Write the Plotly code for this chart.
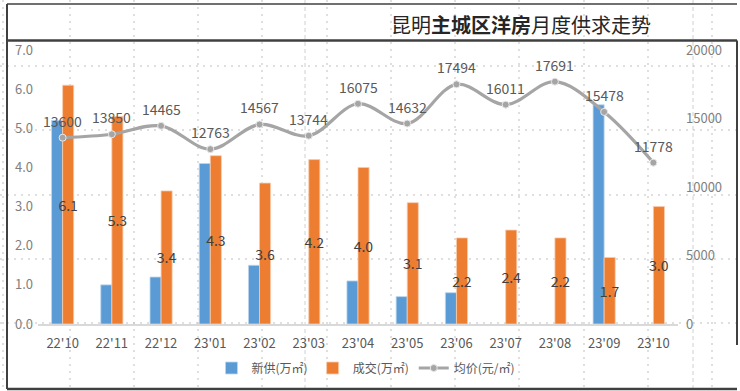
import plotly.graph_objects as go

# ---------------- data ----------------
months = ["22'10", "22'11", "22'12", "23'01", "23'02", "23'03", "23'04",
          "23'05", "23'06", "23'07", "23'08", "23'09", "23'10"]
new_supply = [5.2, 1.0, 1.2, 4.1, 1.5, None, 1.1, 0.7, 0.8, None, None, 5.6, None]
deals = [6.1, 5.3, 3.4, 4.3, 3.6, 4.2, 4.0, 3.1, 2.2, 2.4, 2.2, 1.7, 3.0]
avg_price = [13600, 13850, 14465, 12763, 14567, 13744, 16075, 14632,
             17494, 16011, 17691, 15478, 11778]
left_ticks = [0, 1, 2, 3, 4, 5, 6, 7]
right_ticks = [0, 5000, 10000, 15000, 20000]

# ---------------- geometry (pixels) ----------------
W, H = 740, 391
ML, MR, MT, MB = 38, 62, 50, 67
PW = W - ML - MR
PH = H - MT - MB


def px_x(p):
    return (p - ML) / PW


def px_y(p):
    return (H - MB - p) / PH


FONT = "Noto Sans CJK SC, Noto Sans, sans-serif"

fig = go.Figure()

fig.add_trace(go.Bar(
    x=months, y=new_supply, name="新供(万㎡)",
    marker=dict(color="#5B9BD5", line=dict(color="#BDD7EE", width=0.8)),
    yaxis="y",
))
fig.add_trace(go.Bar(
    x=months, y=deals, name="成交(万㎡)",
    marker=dict(color="#ED7D31", line=dict(color="#F8CBAD", width=0.8)),
    text=[f"{v:.1f}" for v in deals],
    textposition="inside", insidetextanchor="middle",
    constraintext="none", textangle=0,
    textfont=dict(color="#404040", size=14, family=FONT),
    yaxis="y",
))
fig.add_trace(go.Scatter(
    x=months, y=avg_price, name="均价(元/㎡)", mode="lines+markers",
    line=dict(color="#A5A5A5", width=3.2, shape="spline", smoothing=1),
    marker=dict(color="#A5A5A5", size=7, line=dict(color="#E8E8E8", width=1)),
    yaxis="y2",
))

annotations = []
for m, p in zip(months, avg_price):
    annotations.append(dict(
        x=m, y=p, xref="x", yref="y2", text=str(p), showarrow=False,
        yshift=17, font=dict(size=14, color="#595959", family=FONT),
    ))

annotations.append(dict(
    x=px_x(521), y=px_y(24), xref="paper", yref="paper",
    text="昆明<b>主城区洋房</b>月度供求走势", showarrow=False,
    xanchor="center", yanchor="middle",
    font=dict(size=20, color="#262626", family=FONT),
))

shapes = []
# spreadsheet dotted grid
for cx in [3, 70, 134, 198, 262, 327, 391, 455, 519, 584, 648, 712]:
    shapes.append(dict(type="line", xref="paper", yref="paper",
                       x0=px_x(cx), x1=px_x(cx), y0=px_y(0), y1=px_y(H),
                       line=dict(color="#BFBFBF", width=1, dash="2px,5px"),
                       layer="below"))
for cx in [305, 693]:
    shapes.append(dict(type="line", xref="paper", yref="paper",
                       x0=px_x(cx), x1=px_x(cx), y0=px_y(0), y1=px_y(H),
                       line=dict(color="#D0D0D0", width=1, dash="4px,3px"),
                       layer="below"))
for ry in [66, 130, 195, 259, 323]:
    shapes.append(dict(type="line", xref="paper", yref="paper",
                       x0=px_x(0), x1=px_x(W), y0=px_y(ry), y1=px_y(ry),
                       line=dict(color="#BFBFBF", width=1, dash="2px,5px"),
                       layer="below"))

# frame lines
border = "#404040"
frame = [
    (7, 4, 737, 4, 1.5),
    (7, 40.5, 737, 40.5, 2.5),
    (7, 4, 7, 389, 2),
    (737, 40.5, 737, 345, 2),
    (7, 389, 737, 389, 2.5),
]
for x0, y0, x1, y1, w in frame:
    shapes.append(dict(type="line", xref="paper", yref="paper",
                       x0=px_x(x0), x1=px_x(x1), y0=px_y(y0), y1=px_y(y1),
                       line=dict(color=border, width=w), layer="above"))

fig.update_layout(
    width=W, height=H,
    margin=dict(l=ML, r=MR, t=MT, b=MB, autoexpand=False),
    paper_bgcolor="white", plot_bgcolor="rgba(0,0,0,0)",
    font=dict(family=FONT, color="#595959"),
    barmode="group", bargap=0.55, bargroupgap=0,
    showlegend=True,
    legend=dict(orientation="h", x=px_x(366), y=px_y(368),
                xanchor="center", yanchor="middle",
                font=dict(size=12, color="#595959", family=FONT),
                bgcolor="rgba(0,0,0,0)", itemwidth=30),
    xaxis=dict(type="category", range=[-0.5, len(months) - 0.5],
               showline=True, linecolor="#D9D9D9", automargin=False,
               linewidth=2, ticks="", showgrid=False,
               tickfont=dict(size=13, color="#595959", family=FONT),
               ticklabelstandoff=6),
    yaxis=dict(range=[0, 7], tickvals=left_ticks, tickformat=".1f",
               showgrid=False, zeroline=False, showline=False,
               automargin=False,
               tickfont=dict(size=13, color="#7F7F7F", family=FONT),
               ticklabelstandoff=4),
    yaxis2=dict(range=[0, 20000], tickvals=right_ticks, tickformat="d",
                overlaying="y", automargin=False,
                side="right", showgrid=False, zeroline=False, showline=False,
                tickfont=dict(size=13, color="#7F7F7F", family=FONT),
                ticklabelstandoff=7),
    annotations=annotations,
    shapes=shapes,
)

fig.write_html("out.html",
               config={"displayModeBar": False},
               post_script="document.body.style.margin='0';"
                           "document.body.style.overflow='hidden';")
